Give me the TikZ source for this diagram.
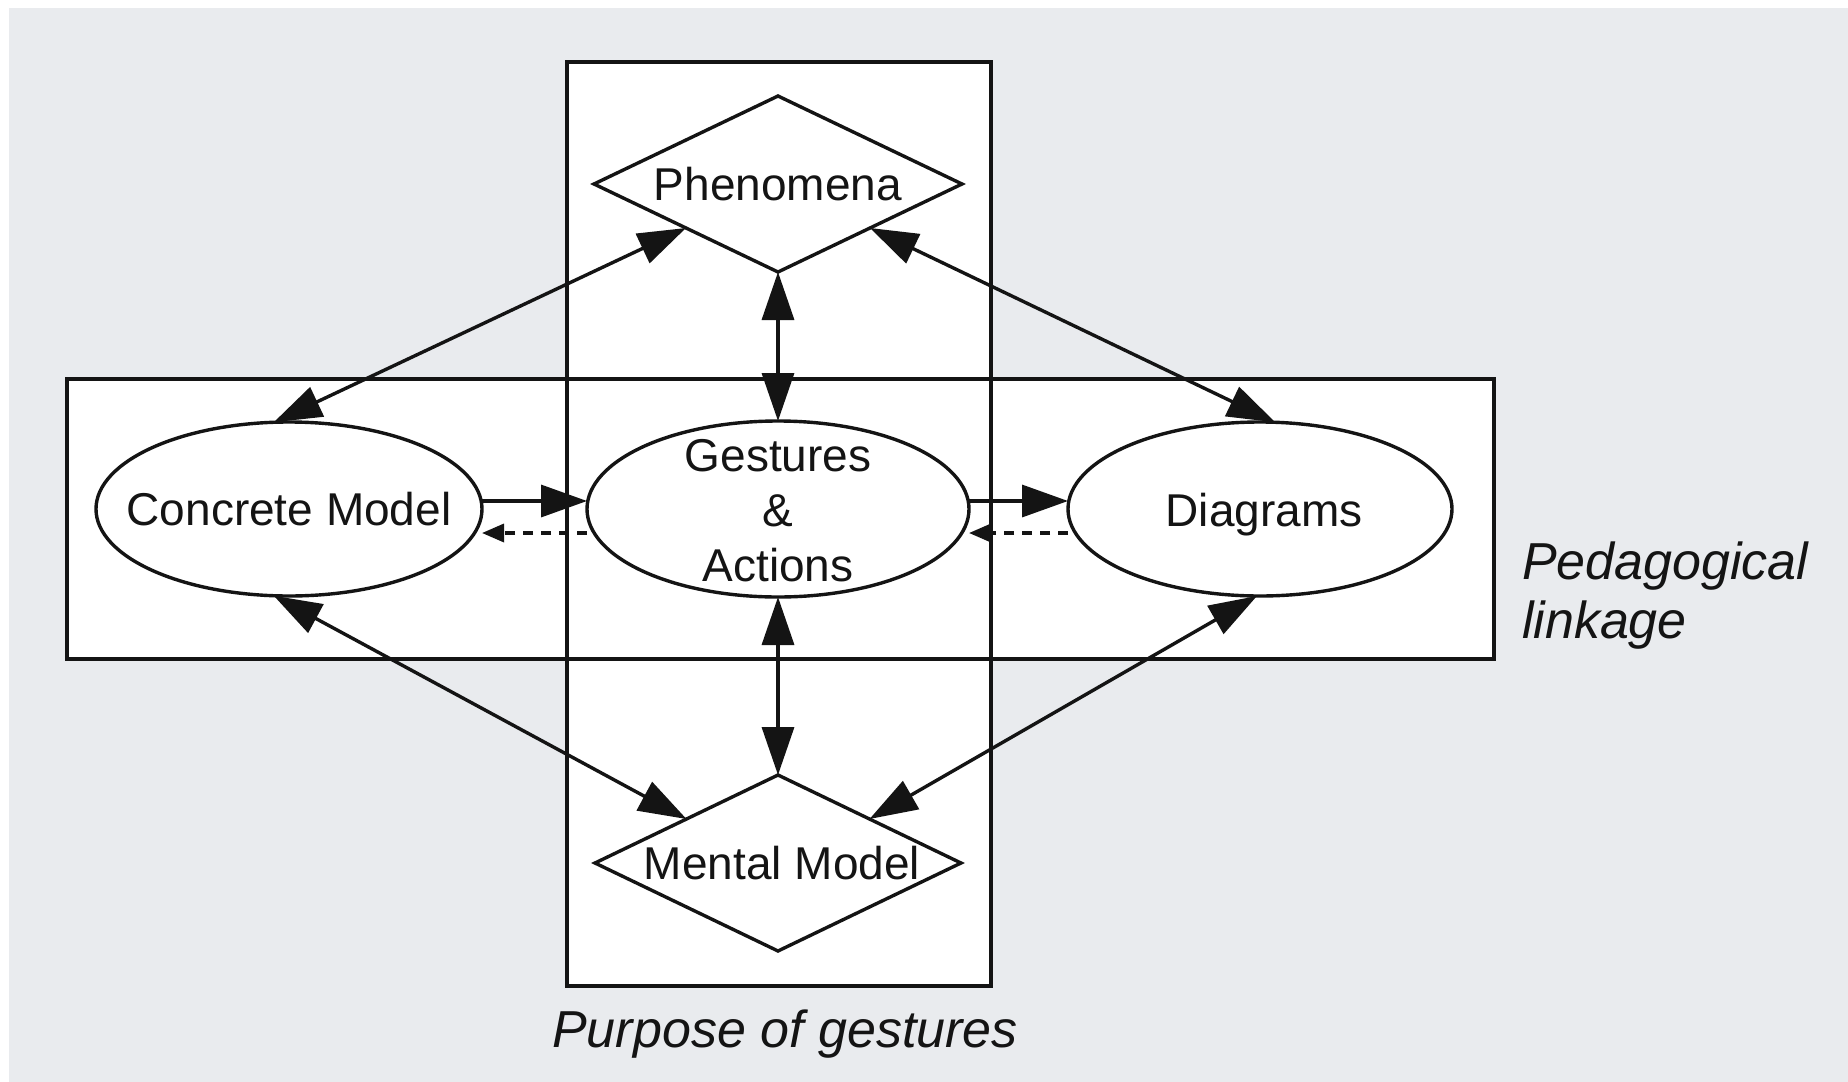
\documentclass[tikz,border=0pt]{standalone}
\usepackage{fontspec}
\setmainfont{Liberation Sans}
\usetikzlibrary{shapes.geometric,arrows.meta,positioning}

\definecolor{slidegray}{HTML}{E9EBEE}
\definecolor{ink}{HTML}{141414}

\begin{document}
\begin{tikzpicture}[
    x=0.5pt, y=-0.5pt,
    every node/.style={inner sep=0pt, outer sep=0pt},
    frame/.style={draw=ink, line width=1.7pt},
    idea/.style={ellipse, draw=ink, fill=white, line width=1.7pt},
    pole/.style={diamond, draw=ink, fill=white, line width=1.7pt, minimum width=184pt, minimum height=88pt},
    txt/.style={font=\fontsize{23}{27.5}\selectfont, text=ink, align=center},
    caption/.style={font=\fontsize{26}{29.5}\selectfont\itshape, text=ink},
    link/.style={ink, line width=1.7pt, {Triangle[length=24pt,width=16pt]}-{Triangle[length=24pt,width=16pt]}},
    push/.style={ink, line width=1.7pt, -{Triangle[length=23pt,width=16pt]}},
    pull/.style={ink, line width=1.7pt, dash pattern=on 5pt off 4pt, -{Triangle[length=11pt,width=9pt]}},
]

% Slide background
\useasboundingbox (0,0) rectangle (1848,1082);
\fill[slidegray] (0,0) rectangle (1848,1082);
\fill[white] (0,0) rectangle (1848,8);
\fill[white] (0,0) rectangle (9,1082);

% The two frames
\fill[white] (567,62) rectangle (991,986);
\fill[white] (67,379) rectangle (1494,659);
\draw[frame] (567,62) rectangle (991,986);
\draw[frame] (67,379) rectangle (1494,659);

% Diamonds
\node[pole] (phen) at (778,184) {};
\node[pole, minimum width=183pt] (mental) at (778,863) {};

% Ellipses in the middle row
\node[idea, minimum width=193pt, minimum height=87pt] (concrete) at (289,509) {};
\node[idea, minimum width=191pt, minimum height=88pt] (gest) at (778,509) {};
\node[idea, minimum width=192pt, minimum height=87pt] (diagrams) at (1260,509) {};

% Texts
\node[txt] (phentxt) at (phen) {Phenomena};
\node[txt] (mentaltxt) at ([xshift=2pt]mental) {Mental Model};
\node[txt] (concretetxt) at (concrete) {Concrete Model};
\node[txt] (gesttxt) at ([yshift=-1pt]gest) {Gestures\\\&\\Actions};
\node[txt] (diagramstxt) at ([xshift=2pt,yshift=-3pt]diagrams) {Diagrams};

% Two-way links
\draw[link] (concrete.100) -- (phen.south west);
\draw[link] (phen.south east) -- (diagrams.80);
\draw[link] (phen.south) -- (gest.north);
\draw[link] (gest.south) -- (mental.north);
\draw[link] (concrete.260) -- (mental.north west);
\draw[link] (diagrams.268) -- (mental.north east);

% Middle row arrows
\draw[push] ([yshift=4pt]concrete.east) -- ([yshift=4pt]gest.west);
\draw[pull] ([yshift=-12pt]gest.west) -- ([yshift=-12pt]concrete.east);
\draw[push] ([yshift=4pt]gest.east) -- ([yshift=4pt]diagrams.west);
\draw[pull] ([yshift=-12pt]diagrams.west) -- ([yshift=-12pt]gest.east);

% Frame captions
\node[caption, anchor=west, align=left] (pedlabel) at (1522,596) {Pedagogical\\linkage};
\node[caption] (purposelabel) at (785,1034) {Purpose of gestures};

\end{tikzpicture}
\end{document}
